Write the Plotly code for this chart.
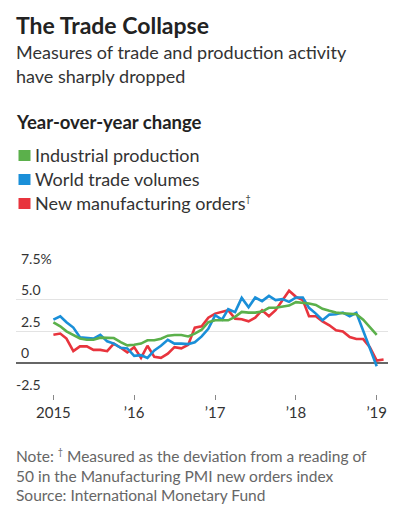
import pandas as pd
import plotly.graph_objects as go

# ---- data (year-over-year % change, monthly from Jan 2015) ----
industrial_production = [3.19, 2.87, 2.47, 2.18, 1.91, 1.80, 1.80, 1.97, 1.94, 1.94, 1.62, 1.36,
                         1.41, 1.50, 1.76, 1.76, 1.89, 2.13, 2.18, 2.18, 2.07, 2.29, 2.60, 3.20,
                         3.35, 3.35, 3.35, 3.62, 4.02, 3.96, 3.96, 4.04, 4.34, 4.34, 4.44, 4.52,
                         4.79, 4.76, 4.68, 4.57, 4.26, 4.10, 3.96, 3.91, 3.86, 3.83, 3.40, 2.82,
                         2.20]
world_trade_volumes = [3.40, 3.67, 3.20, 2.77, 2.00, 1.94, 1.90, 2.20, 1.68, 1.50, 1.17, 1.12,
                       0.53, 0.58, 0.37, 0.96, 1.33, 1.80, 1.50, 1.50, 1.46, 1.60, 2.07, 2.68,
                       3.75, 3.40, 4.23, 4.00, 5.13, 4.39, 5.16, 4.87, 5.29, 4.95, 5.03, 4.81,
                       5.16, 5.16, 4.34, 3.88, 3.35, 3.80, 3.83, 3.96, 3.67, 3.94, 2.53, 1.12,
                       -0.30]
new_manufacturing_orders = [2.20, 2.30, 1.90, 0.90, 1.28, 1.28, 1.00, 1.00, 0.90, 1.50, 1.17, 0.80,
                            1.22, 0.37, 1.33, 0.45, 0.37, 0.70, 1.22, 1.12, 1.40, 2.77, 2.87, 3.56,
                            3.88, 4.04, 4.15, 3.48, 3.43, 3.27, 3.56, 4.15, 3.67, 4.15, 4.89, 5.69,
                            5.21, 4.95, 3.67, 3.67, 3.27, 2.95, 2.55, 2.47, 2.02, 1.86, 1.86, 1.22,
                            0.16, 0.24]

y_tick_values = [-2.5, 0, 2.5, 5, 7.5]
y_tick_labels = ["-2.5", "0", "2.5", "5.0", "7.5%"]
x_tick_values = ["2015-01-01", "2016-01-01", "2017-01-01", "2018-01-01", "2019-01-01"]
x_tick_labels = ["2015", "\u201916", "\u201917", "\u201918", "\u201919"]

series_names = ["Industrial production", "World trade volumes", "New manufacturing orders"]
GREEN, BLUE, RED = "#5bb04b", "#1a8fd8", "#e8343d"

def months(n):
    return pd.date_range("2015-01-01", periods=n, freq="MS")

FONT = "Lato"
W, H = 395, 515
L, R, T, B = 16, 388, 268, 394  # plot area in pixels

def px(x):
    return (x - L) / (R - L)

def py(y):
    return (B - y) / (B - T)

fig = go.Figure()
fig.add_trace(go.Scatter(x=months(len(new_manufacturing_orders)), y=new_manufacturing_orders,
                         mode="lines", line=dict(color=RED, width=2.6), name=series_names[2]))
fig.add_trace(go.Scatter(x=months(len(world_trade_volumes)), y=world_trade_volumes,
                         mode="lines", line=dict(color=BLUE, width=2.6), name=series_names[1]))
fig.add_trace(go.Scatter(x=months(len(industrial_production)), y=industrial_production,
                         mode="lines", line=dict(color=GREEN, width=2.6), name=series_names[0]))

annotations = []
def text(x, y, s, size, color="#222", bold=False):
    annotations.append(dict(
        xref="paper", yref="paper", x=px(x), y=py(y), xanchor="left", yanchor="middle",
        text=f"<b>{s}</b>" if bold else s, showarrow=False,
        font=dict(family=FONT, size=size, color=color)))

DAGGER = "<sup><span style='font-size:9px'>\u2020</span></sup>"

text(14, 24.5, "The Trade Collapse", 23, "#222", bold=True)
text(14, 51.5, "Measures of trade and production activity", 18, "#333")
text(14, 75.5, "have sharply dropped", 18, "#333")
text(14, 122, "Year-over-year change", 18.5, "#222", bold=True)

shapes = []
for i, (name, col) in enumerate(zip(series_names, [GREEN, BLUE, RED])):
    yc = 155.5 + i * 24
    shapes.append(dict(type="rect", xref="paper", yref="paper",
                       x0=px(18.5), x1=px(30.5), y0=py(yc - 5.5), y1=py(yc + 5.5),
                       fillcolor=col, line=dict(width=0)))
    label = name + (DAGGER if i == 2 else "")
    text(33, yc - 0.5, label, 18, "#333")

text(14, 455.5, "Note: " + DAGGER + " Measured as the deviation from a reading of", 15.5, "#666")
text(14, 476, "50 in the Manufacturing PMI new orders index", 15.5, "#666")
text(14, 495, "Source: International Monetary Fund", 15.5, "#666")

# y-axis labels sit just above their gridlines, left-aligned (minus sign hangs left)
for v, lab in zip(y_tick_values, y_tick_labels):
    annotations.append(dict(
        xref="paper", yref="y", x=px(14 if lab.startswith("-") else 19), y=v,
        xanchor="left", yanchor="middle", yshift=10, text=lab, showarrow=False,
        font=dict(family=FONT, size=14, color="#333")))

fig.update_layout(
    width=W, height=H,
    margin=dict(l=L, r=W - R, t=T, b=H - B),
    paper_bgcolor="white", plot_bgcolor="white",
    showlegend=False,
    annotations=annotations, shapes=shapes,
    font=dict(family=FONT, size=14, color="#333"),
    xaxis=dict(
        range=["2014-07-16", "2019-02-21"],
        tickvals=x_tick_values, ticktext=x_tick_labels,
        ticks="outside", ticklen=5, tickcolor="#888", tickwidth=1,
        showgrid=False, zeroline=False, showline=False,
        tickfont=dict(family=FONT, size=15, color="#333"),
    ),
    yaxis=dict(
        range=[-2.5, 7.5],
        tickvals=y_tick_values, showticklabels=False,
        showgrid=True, gridcolor="#e3e3e3", gridwidth=1,
        zeroline=True, zerolinecolor="#666", zerolinewidth=1.5,
        showline=False, ticks="",
    ),
)

fig.write_html("out.html", config={"displayModeBar": False},
               post_script="document.body.style.margin='0px';")
